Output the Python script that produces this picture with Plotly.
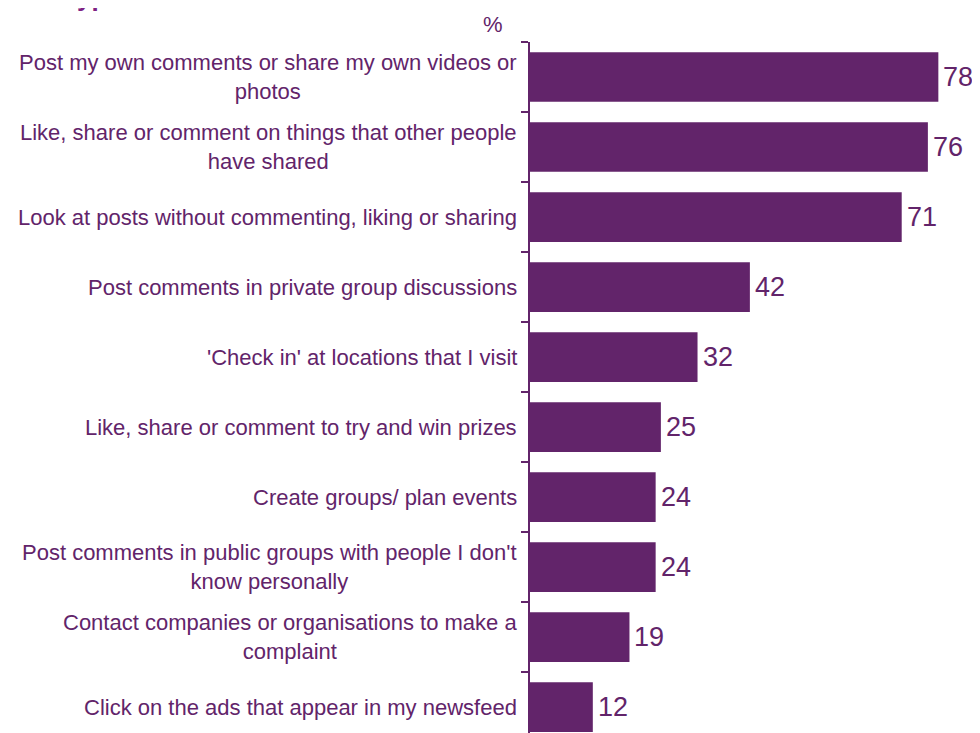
import plotly.graph_objects as go

activities = [
    "Post my own comments or share my own videos or<br>photos",
    "Like, share or comment on things that other people<br>have shared",
    "Look at posts without commenting, liking or sharing",
    "Post comments in private group discussions",
    "'Check in' at locations that I visit",
    "Like, share or comment to try and win prizes",
    "Create groups/ plan events",
    "Post comments in public groups with people I don't<br>know personally",
    "Contact companies or organisations to make a<br>complaint",
    "Click on the ads that appear in my newsfeed",
]
percent = [78, 76, 71, 42, 32, 25, 24, 24, 19, 12]

PURPLE = "#62246a"
FONT = "Liberation Sans, Arial, sans-serif"

fig = go.Figure()
fig.add_trace(go.Bar(
    x=percent, y=list(range(len(activities))), orientation="h",
    marker=dict(color=PURPLE, line=dict(width=0)),
    width=0.71, hoverinfo="skip",
))

annotations = []
for i, (lab, v) in enumerate(zip(activities, percent)):
    annotations.append(dict(
        x=0, xref="paper", y=i, yref="y", text=lab, showarrow=False,
        xanchor="right", yanchor="middle", align="center", xshift=-11,
        font=dict(family=FONT, size=22, color=PURPLE),
    ))
    annotations.append(dict(
        x=v, xref="x", y=i, yref="y", text=str(v), showarrow=False,
        xanchor="left", yanchor="middle", xshift=3,
        font=dict(family=FONT, size=27, color=PURPLE),
    ))

annotations.append(dict(
    x=0, xref="paper", y=1, yref="paper", text="%", showarrow=False,
    xanchor="center", yanchor="bottom", xshift=-37, yshift=3,
    font=dict(family=FONT, size=22, color=PURPLE),
))
annotations.append(dict(
    x=0, xref="paper", y=1, yref="paper", text="<b>Types of activities</b>",
    showarrow=False, xanchor="left", yanchor="bottom", xshift=-469, yshift=28,
    font=dict(family=FONT, size=26, color="#7e2183"),
))

# the page body has an 8px margin, so the figure is offset by that much
fig.update_layout(
    width=980, height=733,
    margin=dict(l=522, r=13, t=34, b=8),
    paper_bgcolor="white", plot_bgcolor="white",
    showlegend=False,
    xaxis=dict(range=[0, 85], visible=False),
    yaxis=dict(
        range=[9.37, -0.5], showticklabels=False, showgrid=False, zeroline=False,
        showline=True, linecolor=PURPLE, linewidth=1.5,
        tickmode="array", tickvals=[i - 0.5 for i in range(10)],
        ticks="outside", ticklen=7, tickcolor=PURPLE, tickwidth=1.5,
    ),
    annotations=annotations,
)

fig.write_html("out.html")
